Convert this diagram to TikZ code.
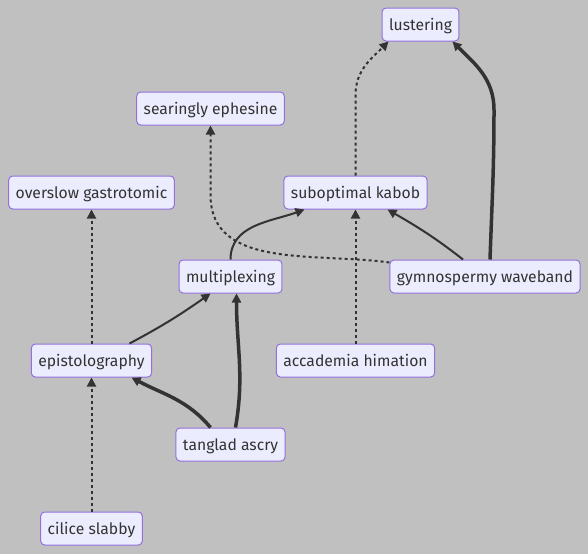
\documentclass[tikz,border=0pt]{standalone}
\usepackage{fontspec}
\setmainfont{Fira Sans}
\usetikzlibrary{positioning,arrows.meta}

\definecolor{bggrey}{HTML}{C0C0C0}
\definecolor{boxfill}{HTML}{ECECFF}
\definecolor{boxline}{HTML}{9370DB}
\definecolor{inkgrey}{HTML}{333333}

\tikzset{
  box/.style={rectangle, rounded corners=4pt, draw=boxline, line width=1pt, fill=boxfill,
    text=inkgrey, minimum height=33pt, inner xsep=7pt, text height=13.5pt, text depth=2pt,
    font=\fontsize{15.7}{19}\selectfont},
  edge/.style={draw=inkgrey, line width=2pt, -{Triangle[length=9pt,width=9pt]}},
  thickedge/.style={edge, line width=3.5pt},
  dotedge/.style={edge, dash pattern=on 3pt off 3pt}
}

\begin{document}
\begin{tikzpicture}[x=1pt,y=-1pt]
\fill[bggrey] (0,0) rectangle (588,554);
\useasboundingbox (0,0) rectangle (588,554);

\node[box] (lu) at (420.5,24.5) {lustering};
\node[box] (se) at (210.5,108.5) {searingly ephesine};
\node[box] (og) at (91.5,192.5) {overslow gastrotomic};
\node[box] (so) at (355.5,192.5) {suboptimal kabob};
\node[box] (mu) at (230.5,276.5) {multiplexing};
\node[box] (gw) at (485,276.5) {gymnospermy waveband};
\node[box] (ep) at (91.5,360.5) {epistolography};
\node[box] (ah) at (355.5,360.5) {accademia himation};
\node[box] (ta) at (230.5,444.5) {tanglad ascry};
\node[box] (cs) at (91.5,528.5) {cilice slabby};

\coordinate (sebend) at (210.5,195);
\coordinate (lubend) at (494,110);
\coordinate (sobend) at (355.5,95);

% lower part
\draw[dotedge] (cs) -- (ep);
\draw[dotedge] (ep) -- (og);
\draw[edge] ([xshift=38pt]ep.north) to[out=28,in=215] ([xshift=-20pt]mu.south);
\draw[thickedge] ([xshift=-20pt]ta.north) to[out=130,in=-28] ([xshift=40pt]ep.south);
\draw[thickedge] ([xshift=5pt]ta.north) to[out=80,in=-90] ([xshift=6pt]mu.south);
\draw[dotedge] (ah) -- (so);

% upper part
\draw[edge] (mu.north) to[out=90,in=200] ([xshift=-51pt]so.south);
\draw[dotedge] ([yshift=-3pt]gw.north west) to[out=172,in=-90] (sebend) -- (se.south);
\draw[edge] ([xshift=-22pt]gw.north) to[out=142,in=-30] ([xshift=32pt]so.south);
\draw[thickedge] ([xshift=5pt]gw.north) to[out=88,in=-90] (lubend) to[out=90,in=-45] ([xshift=32pt]lu.south);
\draw[dotedge] (so.north) -- (sobend) to[out=90,in=-135] ([xshift=-32pt]lu.south);
\end{tikzpicture}
\end{document}
